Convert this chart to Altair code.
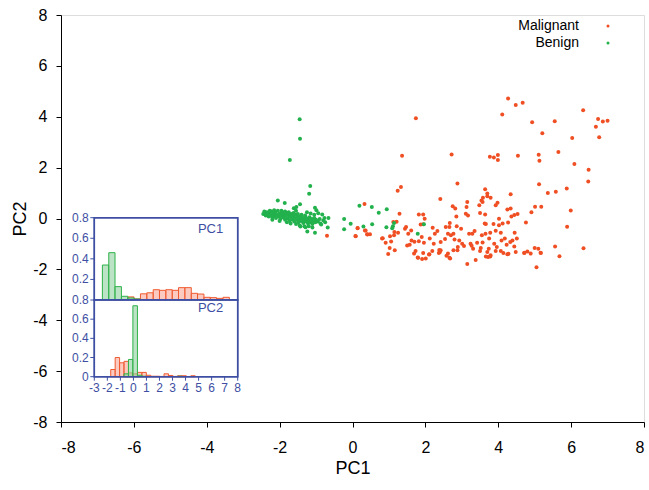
import altair as alt
import pandas as pd

# ---------------- data ----------------
malignant = [
    (4.27, 4.72), (4.48, 4.46), (4.67, 4.55), (4.11, 4.09), (1.74, 3.94), (4.93, 3.78),
    (5.55, 3.82), (6.33, 4.26), (6.74, 3.91), (6.87, 3.81), (7.00, 3.84), (6.68, 3.61),
    (6.77, 3.19), (5.21, 3.35), (6.03, 3.16), (5.65, 2.61), (5.11, 2.51), (5.13, 2.27),
    (4.54, 2.47), (3.77, 2.43), (3.88, 2.40), (3.99, 2.50), (3.99, 2.30), (2.72, 2.52),
    (1.36, 2.47), (6.09, 2.14), (6.48, 1.92), (6.47, 1.45), (5.12, 1.35), (5.36, 1.00),
    (5.58, 1.05), (5.88, 1.18), (4.34, 0.95), (2.88, 1.38), (1.33, 1.24), (1.24, 1.09),
    (2.41, 0.77), (5.99, 0.31), (5.89, -0.32), (6.34, -1.17), (5.68, -1.48), (5.56, -1.10),
    (5.05, -1.92), (3.15, -1.79), (3.38, -1.63),
    (0.33, 0.57), (1.29, 0.19), (0.14, -0.37), (0.34, -0.47), (0.08, -0.69), (0.40, -0.62),
    (0.48, -0.62), (0.81, -0.79), (0.91, -0.95), (1.03, -0.70), (1.06, -0.90), (1.14, -0.66),
    (1.15, -0.53), (1.21, -0.13), (1.25, -0.56), (1.02, -1.16), (0.98, -1.40), (1.16, -1.25),
    (1.44, -0.40), (1.47, -0.33), (1.53, -0.60), (1.61, -0.47), (1.62, -0.86), (1.50, -1.06),
    (1.57, -1.03), (1.70, -0.91), (1.73, -1.28), (1.69, -1.38), (1.82, 0.16), (1.94, 0.16),
    (1.98, -0.01), (1.94, -0.23), (1.87, -0.24), (1.90, -0.73), (1.82, -0.89), (1.96, -0.95),
    (1.80, -1.54), (1.91, -1.59), (2.01, -1.57), (2.11, -1.41), (2.19, -1.28), (2.23, -0.99),
    (2.20, -0.36), (2.33, -0.49), (2.26, -0.60), (2.12, -0.79), (2.42, -0.92), (2.38, -1.24),
    (2.40, -1.32), (2.54, -0.81), (2.56, -0.33), (2.67, -0.18), (2.66, -0.33), (2.62, -0.60),
    (2.70, -0.66), (2.77, -0.60), (2.86, -0.30), (2.75, 0.48), (2.82, 0.39), (2.85, 0.08),
    (2.80, -0.83), (2.93, -0.86), (2.98, -0.40), (3.01, -0.99), (2.89, -1.12), (2.77, -1.25),
    (2.62, -1.38), (2.66, -1.54), (3.15, 0.65), (3.13, 0.45), (3.11, 0.19), (3.17, 0.12),
    (3.20, -0.60), (3.29, -0.60), (3.35, -0.49), (3.24, -0.99), (3.31, -1.19), (3.42, -0.95),
    (3.52, -1.16), (3.57, -0.94), (3.55, -0.66), (3.65, -0.60), (3.63, -0.20), (3.50, 0.22),
    (3.64, 0.16), (3.48, 0.52), (3.54, 0.71), (3.58, 0.82), (3.70, 0.87), (3.64, 1.15),
    (3.74, -1.19), (3.72, -1.51),
    (3.70, 0.98), (3.79, 0.82), (3.57, 0.65), (3.98, 0.62), (3.93, 0.52), (5.01, 0.46),
    (5.18, 0.46), (4.91, 0.25), (4.25, 0.35), (4.34, 0.39), (4.36, 0.08), (4.44, 0.14),
    (4.53, 0.18), (4.02, -0.01), (3.66, -0.22), (3.87, -0.22), (4.02, -0.27), (4.12, -0.20),
    (4.27, -0.16), (4.76, -0.16), (3.93, -0.48), (4.07, -0.56), (3.78, -0.56), (4.45, -0.56),
    (4.51, -0.79), (4.39, -0.86), (4.33, -0.92), (4.18, -0.79), (4.09, -0.86), (4.23, -1.03),
    (3.89, -0.99), (3.75, -0.79), (3.96, -1.12), (4.07, -1.28), (3.93, -1.28), (3.70, -1.32),
    (3.66, -1.49), (3.78, -1.49), (4.25, -1.41), (4.48, -1.32), (4.44, -1.10), (4.71, -1.36),
    (4.80, -1.30), (4.89, -1.38), (5.00, -1.16), (5.10, -1.19), (5.17, -1.36),
    (1.79, -1.53), (1.94, -1.36), (2.10, -1.42), (2.37, -1.36), (2.42, -1.25), (2.58, -1.46),
    (2.68, -1.57), (2.88, -1.25), (3.06, -1.08), (3.27, -1.07), (3.50, -1.28), (3.79, -1.44),
    (4.14, -1.36), (4.28, -1.39), (4.72, -1.35), (5.16, -1.35),
    (-0.70, -0.68), (0.09, -0.70), (0.14, -0.38), (0.36, -0.47), (0.41, -0.63), (0.83, -0.78),
    (1.12, -0.14),
]

benign = [
    (-2.45, 0.18), (-2.40, 0.20), (-2.38, 0.12), (-2.35, 0.25), (-2.32, 0.15), (-2.30, 0.08),
    (-2.28, 0.22), (-2.25, 0.14), (-2.22, 0.28), (-2.20, 0.05), (-2.18, 0.18), (-2.15, 0.10),
    (-2.12, 0.24), (-2.10, 0.02), (-2.08, 0.15), (-2.05, 0.30), (-2.02, 0.08), (-2.00, 0.20),
    (-1.98, -0.02), (-1.95, 0.12), (-1.92, 0.25), (-1.90, 0.04), (-1.88, 0.16), (-1.85, -0.05),
    (-1.83, 0.10), (-1.80, 0.22), (-1.78, 0.00), (-1.75, 0.13), (-1.72, -0.08), (-1.70, 0.06),
    (-1.68, 0.18), (-1.65, -0.03), (-1.62, 0.10), (-1.60, -0.12), (-1.58, 0.02), (-1.55, 0.15),
    (-1.52, -0.06), (-1.50, 0.06), (-1.48, -0.15), (-1.45, -0.02), (-1.42, 0.10), (-1.40, -0.10),
    (-1.38, 0.02), (-1.35, -0.18), (-1.32, -0.05), (-1.30, 0.08), (-1.28, -0.12), (-1.25, 0.00),
    (-1.22, -0.20), (-1.20, -0.08), (-1.18, 0.05), (-1.15, -0.15), (-1.12, -0.02), (-1.10, -0.22),
    (-1.08, -0.10), (-1.05, 0.02), (-1.02, -0.15), (-1.00, -0.05), (-0.95, -0.12), (-0.90, -0.02),
    (-0.88, -0.20), (-0.80, -0.08), (-0.75, -0.15), (-2.42, 0.28), (-2.27, 0.30), (-2.15, 0.32),
    (-1.95, 0.30), (-1.85, 0.28), (-1.75, 0.25), (-1.62, 0.22), (-1.50, 0.18), (-1.40, 0.15),
    (-1.30, 0.12), (-2.20, -0.05), (-2.00, -0.10), (-1.80, -0.15), (-1.70, -0.20), (-1.55, -0.22),
    (-1.45, -0.28), (-1.32, -0.30), (-1.20, -0.30), (-1.10, -0.35), (-1.55, 0.30), (-1.25, 0.25),
    (-1.15, 0.20), (-1.05, 0.15),
    (-1.45, 3.90), (-1.44, 3.14), (-1.72, 2.30), (-1.16, 1.28), (-1.19, 0.97), (-2.05, 0.71),
    (-1.86, 0.61), (-1.44, 0.56), (-1.61, 0.40), (-1.54, 0.45), (-1.03, 0.42), (-0.99, 0.32),
    (-0.94, 0.21), (-0.83, 0.16), (-0.77, 0.02), (-0.66, 0.02), (-0.86, -0.24), (-0.68, -0.35),
    (-1.03, -0.56), (-1.24, -0.51), (-1.43, -0.31), (-1.29, -0.34), (-0.23, -0.02), (-0.05, -0.21),
    (-0.23, -0.42), (0.19, 0.50), (0.53, 0.45), (0.72, 0.23), (0.94, 0.36), (0.30, -0.31),
    (0.54, -0.23), (0.93, -0.34), (1.11, -0.30), (1.09, -0.38), (1.14, -0.18), (1.96, -0.23),
    (1.79, -0.60),
]

# inset histograms (proportions)
pc1_edges = [-2.38, -1.89, -1.41, -0.92, -0.43, 0.05, 0.54, 1.03, 1.52, 2.00, 2.49,
             2.98, 3.46, 3.95, 4.44, 4.92, 5.41, 5.90, 6.38, 6.87, 7.36]
pc1_malignant = [0, 0, 0, 0, 0.03, 0.01, 0.06, 0.07, 0.10, 0.094, 0.10, 0.094, 0.12, 0.12,
                 0.065, 0.058, 0.026, 0.023, 0.016, 0.026]
pc1_benign = [0.34, 0.46, 0.13, 0.036, 0.02, 0.01, 0, 0, 0, 0, 0, 0, 0, 0, 0, 0, 0, 0, 0, 0]

pc2_edges = [-1.74, -1.40, -1.06, -0.72, -0.38, -0.04, 0.31, 0.65, 0.99, 1.33, 1.67,
             2.01, 2.35, 2.69, 3.03, 3.38, 3.72, 4.06, 4.40, 4.74]
pc2_malignant = [0.075, 0.20, 0.145, 0.16, 0.04, 0.03, 0.045, 0.045, 0.015, 0.005, 0.005,
                 0.003, 0.03, 0.013, 0.003, 0.01, 0.01, 0, 0.01]
pc2_benign = [0, 0, 0, 0.03, 0.18, 0.74, 0.015, 0.005, 0, 0, 0, 0, 0, 0, 0, 0.005, 0, 0, 0]

main_ticks = [-8, -6, -4, -2, 0, 2, 4, 6, 8]
inset_xticks = [-3, -2, -1, 0, 1, 2, 3, 4, 5, 6, 7, 8]
inset_top_yticks = [0.2, 0.4, 0.6, 0.8]
inset_top_ylabels = ["0.2", "0.4", "0.6", "0.8"]
inset_bot_yticks = [0, 0.2, 0.4, 0.6, 0.8]
inset_bot_ylabels = ["0", "0.2", "0.4", "0.6", "0.8"]
legend_labels = ["Malignant", "Benign"]

# ---------------- styling / layout ----------------
FONT = "Liberation Sans"
RED = "#f04e23"
GREEN = "#22b14c"
BLUE = "#3e4fa3"
W, H = 583, 407
# inset placement inside the plot area (pixels)
IX0, IX1 = 33.3, 176.7
IY_TOP, IY_MID, IY_BOT = 202.7, 285.0, 361.7

mal_df = pd.DataFrame(malignant, columns=["pc1", "pc2"])
ben_df = pd.DataFrame(benign, columns=["pc1", "pc2"])

xscale = alt.Scale(domain=[-8, 8], nice=False, zero=False)
yscale = alt.Scale(domain=[-8, 8], nice=False, zero=False)

xaxis = alt.Axis(values=main_ticks, labelExpr="'' + datum.value", title="PC1",
                 grid=False, tickSize=5, labelPadding=12, labelFontSize=16,
                 titleFontSize=18, titleFontWeight="normal", titleX=W / 2, titleY=46,
                 titleBaseline="middle", domainColor="black", tickColor="black",
                 labelColor="black", titleColor="black", labelFont=FONT, titleFont=FONT)
yaxis = alt.Axis(values=main_ticks, labelExpr="'' + datum.value", title="PC2",
                 grid=False, tickSize=5, labelPadding=9, labelFontSize=16,
                 titleFontSize=18, titleFontWeight="normal", titleX=-41, titleY=H / 2,
                 titleAngle=-90, titleAlign="center", titleBaseline="middle",
                 domainColor="black", tickColor="black", labelColor="black",
                 titleColor="black", labelFont=FONT, titleFont=FONT)

mal_pts = alt.Chart(mal_df).mark_circle(size=16, opacity=1, color=RED).encode(
    x=alt.X("pc1:Q", scale=xscale, axis=xaxis),
    y=alt.Y("pc2:Q", scale=yscale, axis=yaxis),
)
ben_pts = alt.Chart(ben_df).mark_circle(size=16, opacity=1, color=GREEN).encode(
    x=alt.X("pc1:Q", scale=xscale, axis=None),
    y=alt.Y("pc2:Q", scale=yscale, axis=None),
)

leg_df = pd.DataFrame({"label": legend_labels})


def leg_item(label, color, ypix):
    t = alt.Chart(leg_df).transform_filter(f"datum.label == '{label}'").mark_text(
        align="right", baseline="middle", fontSize=14, font=FONT, color="black").encode(
        text="label:N", x=alt.value(518), y=alt.value(ypix))
    d = alt.Chart(leg_df).transform_filter(f"datum.label == '{label}'").mark_circle(
        size=9, opacity=1, color=color).encode(x=alt.value(547), y=alt.value(ypix))
    return [t, d]


# ---------------- inset (own scales placed inside the plot area) ----------------
ix_scale = alt.Scale(domain=[-3, 8], nice=False, zero=False, range=[IX0, IX1])
iy_top = alt.Scale(domain=[0, 0.8], nice=False, zero=False, range=[IY_MID, IY_TOP])
iy_bot = alt.Scale(domain=[0, 0.8], nice=False, zero=False, range=[IY_BOT, IY_MID])


def hist_df(edges, vals):
    rows = []
    for i, v in enumerate(vals):
        if v > 0:
            rows.append({"x0": edges[i], "x1": edges[i + 1], "v": v, "base": 0})
    return pd.DataFrame(rows)


frame_df = pd.DataFrame({"x0": [-3], "x1": [8], "y0": [0], "y1": [0.8]})


def panel_layers(edges, mal, ben, ys, name, name_y, yticks, ylabels):
    frame = alt.Chart(frame_df).mark_rect(fill="white", stroke=BLUE, strokeWidth=1.5).encode(
        x=alt.X("x0:Q", scale=ix_scale, axis=None), x2="x1:Q",
        y=alt.Y("y0:Q", scale=ys, axis=None), y2="y1:Q")
    red = alt.Chart(hist_df(edges, mal)).mark_rect(
        fill="#f8a998", fillOpacity=0.6, stroke="#f05a30", strokeWidth=1).encode(
        x=alt.X("x0:Q", scale=ix_scale, axis=None), x2="x1:Q",
        y=alt.Y("v:Q", scale=ys, axis=None), y2="base:Q")
    green = alt.Chart(hist_df(edges, ben)).mark_rect(
        fill="#8fd19e", fillOpacity=0.6, stroke="#2fb24a", strokeWidth=1).encode(
        x=alt.X("x0:Q", scale=ix_scale, axis=None), x2="x1:Q",
        y=alt.Y("v:Q", scale=ys, axis=None), y2="base:Q")
    outline = alt.Chart(frame_df).mark_rect(fill="transparent", stroke=BLUE,
                                            strokeWidth=1.5).encode(
        x=alt.X("x0:Q", scale=ix_scale, axis=None), x2="x1:Q",
        y=alt.Y("y0:Q", scale=ys, axis=None), y2="y1:Q")
    tick_df = pd.DataFrame({"t": yticks, "lab": ylabels})
    yt = alt.Chart(tick_df).mark_rule(color=BLUE, strokeWidth=1).encode(
        y=alt.Y("t:Q", scale=ys, axis=None), x=alt.value(IX0 - 4), x2=alt.value(IX0))
    yl = alt.Chart(tick_df).mark_text(align="right", baseline="middle", fontSize=12,
                                      font=FONT, color=BLUE).encode(
        y=alt.Y("t:Q", scale=ys, axis=None), x=alt.value(IX0 - 5.5), text="lab:N")
    lab = alt.Chart(pd.DataFrame({"t": [name]})).mark_text(
        align="right", baseline="middle", fontSize=13, font=FONT, color=BLUE).encode(
        text="t:N", x=alt.value(IX1 - 14.5), y=alt.value(name_y))
    return [frame, red, green, outline, yt, yl, lab]


top_layers = panel_layers(pc1_edges, pc1_malignant, pc1_benign, iy_top, "PC1",
                          IY_TOP + 11, inset_top_yticks, inset_top_ylabels)
bot_layers = panel_layers(pc2_edges, pc2_malignant, pc2_benign, iy_bot, "PC2",
                          IY_MID + 8, inset_bot_yticks, inset_bot_ylabels)

xt_df = pd.DataFrame({"t": inset_xticks, "lab": [str(v) for v in inset_xticks]})
x_ticks = alt.Chart(xt_df).mark_rule(color=BLUE, strokeWidth=1).encode(
    x=alt.X("t:Q", scale=ix_scale, axis=None), y=alt.value(IY_BOT), y2=alt.value(IY_BOT + 4))
x_labels = alt.Chart(xt_df).mark_text(align="center", baseline="middle", fontSize=12,
                                      font=FONT, color=BLUE).encode(
    x=alt.X("t:Q", scale=ix_scale, axis=None), y=alt.value(IY_BOT + 11.5), text="lab:N")

layers = ([mal_pts, ben_pts] + leg_item("Malignant", RED, 11) + leg_item("Benign", GREEN, 28)
          + top_layers + bot_layers + [x_ticks, x_labels])

chart = alt.layer(*layers).resolve_scale(x="independent", y="independent").properties(
    width=W, height=H,
    autosize=alt.AutoSizeParams(type="none"),
    padding={"left": 61, "top": 15, "right": 5, "bottom": 68},
    background="white",
).configure_view(stroke="#555555", strokeWidth=1).configure(font=FONT)

chart.save("out.html", embed_options={"renderer": "svg", "actions": False})
